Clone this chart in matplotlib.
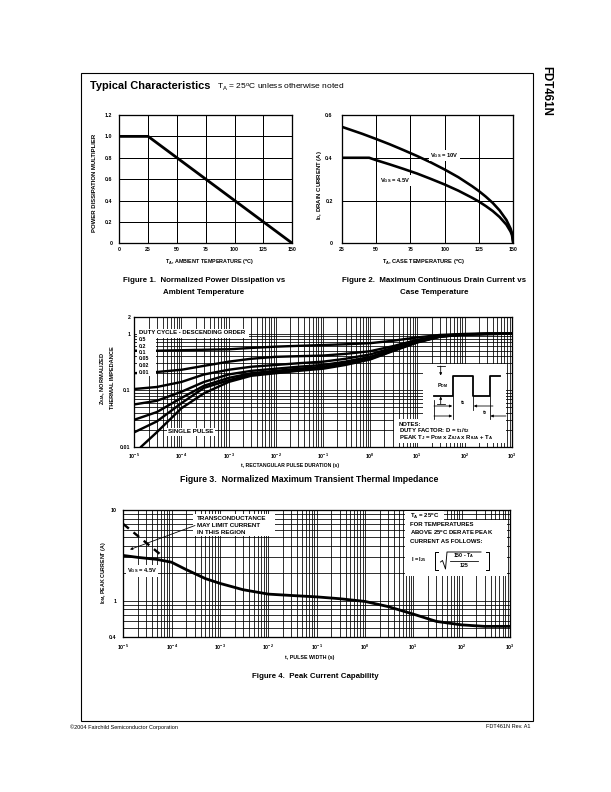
import numpy as np
import matplotlib
matplotlib.use('Agg')
import matplotlib.pyplot as plt
from matplotlib.patches import Rectangle, FancyArrowPatch
from matplotlib.lines import Line2D
from matplotlib.transforms import Affine2D
from matplotlib.ticker import FixedLocator, NullFormatter, FixedFormatter, LogLocator

plt.rcParams['font.family'] = ['Liberation Sans', 'DejaVu Sans']
plt.rcParams['mathtext.default'] = 'regular'
plt.rcParams['axes.linewidth'] = 1.2

# ---------------- data ----------------
# Figure 1: normalized power dissipation
fig1_temp = [0, 25, 150]
fig1_mult = [1.0, 1.0, 0.0]
fig1_xticks = [0, 25, 50, 75, 100, 125, 150]
fig1_yticks = [0, 0.2, 0.4, 0.6, 0.8, 1.0, 1.2]
fig1_ylabels = ['0', '0.2', '0.4', '0.6', '0.8', '1.0', '1.2']

# Figure 2: max continuous drain current
fig2_temp_10v = [25, 30, 40, 50, 60, 70, 80, 90, 100, 110, 120, 125, 130, 135, 140, 145, 148, 149, 150]
fig2_id_10v = [0.545, 0.534, 0.512, 0.488, 0.463, 0.436, 0.408, 0.378, 0.345, 0.309, 0.267, 0.244,
               0.218, 0.189, 0.154, 0.109, 0.069, 0.049, 0.0]
fig2_temp_45v = [25, 45, 50, 60, 70, 80, 90, 100, 110, 120, 125, 130, 135, 140, 145, 148, 149, 150]
fig2_id_45v = [0.40, 0.40, 0.389, 0.369, 0.348, 0.326, 0.301, 0.275, 0.246, 0.213, 0.195, 0.174,
               0.151, 0.123, 0.087, 0.055, 0.039, 0.0]
fig2_xticks = [25, 50, 75, 100, 125, 150]
fig2_yticks = [0, 0.2, 0.4, 0.6]
fig2_ylabels = ['0', '0.2', '0.4', '0.6']

# Figure 3: transient thermal impedance
fig3_t = [1e-5, 3e-5, 1e-4, 3e-4, 1e-3, 3e-3, 1e-2, 3e-2, 1e-1, 3e-1, 1, 3, 10, 30, 100, 300, 1000]
fig3_d05 = [0.50, 0.50, 0.51, 0.52, 0.53, 0.56, 0.59, 0.61, 0.63, 0.65, 0.68, 0.75, 0.86, 0.95, 0.99, 1.0, 1.0]
fig3_d02 = [0.20, 0.21, 0.23, 0.27, 0.32, 0.36, 0.39, 0.40, 0.41, 0.44, 0.49, 0.60, 0.78, 0.92, 0.98, 1.0, 1.0]
fig3_d01 = [0.105, 0.114, 0.14, 0.19, 0.23, 0.26, 0.28, 0.30, 0.32, 0.36, 0.43, 0.56, 0.75, 0.91, 0.98, 0.99, 1.0]
fig3_d005 = [0.056, 0.065, 0.094, 0.14, 0.19, 0.22, 0.24, 0.26, 0.28, 0.32, 0.39, 0.53, 0.73, 0.90, 0.97, 0.99, 1.0]
fig3_d002 = [0.030, 0.041, 0.073, 0.12, 0.165, 0.20, 0.22, 0.24, 0.26, 0.30, 0.37, 0.51, 0.72, 0.89, 0.97, 0.99, 1.0]
fig3_d001 = [0.018, 0.028, 0.059, 0.11, 0.15, 0.19, 0.21, 0.23, 0.25, 0.29, 0.36, 0.50, 0.71, 0.89, 0.97, 0.99, 1.0]
fig3_t_single = [1.4e-5, 3e-5, 1e-4, 3e-4, 1e-3, 3e-3, 1e-2, 3e-2, 1e-1, 3e-1, 1, 3, 10, 30, 100, 300, 1000]
fig3_single = [0.010, 0.018, 0.048, 0.088, 0.14, 0.18, 0.20, 0.22, 0.24, 0.28, 0.35, 0.49, 0.70, 0.88, 0.97, 0.99, 1.0]
fig3_duty_labels = ['0.5', '0.2', '0.1', '0.05', '0.02', '0.01']
fig3_yticks = [0.01, 0.1, 1, 2]
fig3_ylabels = ['0.01', '0.1', '1', '2']

# Figure 4: peak current capability
fig4_t = [1e-5, 2e-5, 5e-5, 1e-4, 2e-4, 5e-4, 1e-3, 3e-3, 1e-2, 3e-2, 1e-1, 3e-1, 1, 3, 10, 30, 100, 300, 1000]
fig4_idm = [3.15, 3.0, 2.85, 2.65, 2.2, 1.75, 1.55, 1.32, 1.18, 1.14, 1.10, 1.05, 0.98, 0.86, 0.71, 0.59, 0.54, 0.52, 0.52]
fig4_trans_t = [1e-5, 6e-5]
fig4_trans_i = [7.0, 3.2]
fig4_yticks = [0.4, 1, 10]
fig4_ylabels = ['0.4', '1', '10']

log_xticks = [1e-5, 1e-4, 1e-3, 1e-2, 1e-1, 1, 10, 100, 1000]
log_xlabels = ['10$^{-5}$', '10$^{-4}$', '10$^{-3}$', '10$^{-2}$', '10$^{-1}$', '10$^{0}$',
               '10$^{1}$', '10$^{2}$', '10$^{3}$']

# ---------------- figure ----------------
W, H = 611, 792
fig = plt.figure(figsize=(W / 72, H / 72), dpi=72)
fig.patch.set_facecolor('white')
PX = Affine2D().scale(1 / W, -1 / H).translate(0, 1) + fig.transFigure

SMALL = 6.0     # annotation text
ALAB = 5.6      # axis labels
TICK = 5.3      # tick labels
CAP = 7.9       # captions


def add_ax(l, t, r, b):
    return fig.add_axes([l / W, 1 - b / H, (r - l) / W, (b - t) / H])


def ftext(x, y, s, size=SMALL, weight='bold', ha='left', va='center', **kw):
    return fig.text(x / W, 1 - y / H, s, fontsize=size, fontweight=weight, ha=ha, va=va, **kw)


def vtext(x, y, s, size=ALAB):
    return fig.text(x / W, 1 - y / H, s, fontsize=size, fontweight='bold', rotation=90,
                    ha='center', va='center')


def fline(xs, ys, lw=1.0, **kw):
    fig.add_artist(Line2D(xs, ys, transform=PX, color='black', lw=lw, **kw))


def frect(x0, y0, x1, y1, fc='white', ec='none', lw=0.0, z=1):
    fig.add_artist(Rectangle((x0, y0), x1 - x0, y1 - y0, transform=PX,
                             facecolor=fc, edgecolor=ec, lw=lw, zorder=z))


def farrow(x0, y0, x1, y1, lw=0.8, ms=5):
    fig.add_artist(FancyArrowPatch((x0, y0), (x1, y1), transform=PX, arrowstyle='-|>',
                                   mutation_scale=ms, color='black', lw=lw,
                                   shrinkA=0, shrinkB=0, zorder=2))


WHITE = dict(facecolor='white', edgecolor='none', pad=1.2)


def style(ax, xpad, ypad, size=TICK):
    ax.tick_params(which='both', length=0, labelsize=size)
    ax.tick_params(axis='x', pad=xpad)
    ax.tick_params(axis='y', pad=ypad)
    for lbl in ax.get_xticklabels() + ax.get_yticklabels():
        lbl.set_fontweight('bold')
    for s in ax.spines.values():
        s.set_linewidth(1.3)


def log_grid(ax):
    ax.set_xscale('log')
    ax.set_yscale('log')
    ax.xaxis.set_major_locator(FixedLocator(log_xticks))
    ax.xaxis.set_major_formatter(FixedFormatter(log_xlabels))
    ax.xaxis.set_minor_locator(LogLocator(base=10, subs=np.arange(2, 10), numticks=50))
    ax.xaxis.set_minor_formatter(NullFormatter())
    ax.yaxis.set_minor_locator(LogLocator(base=10, subs=np.arange(2, 10), numticks=50))
    ax.yaxis.set_minor_formatter(NullFormatter())
    ax.grid(True, which='both', color='black', lw=0.8)


# border, title, side label, footer
frect(81, 73, 533, 720.5, fc='none', ec='black', lw=1.1, z=1)
ftext(90, 86, 'Typical Characteristics', size=11, weight='bold')
ftext(217, 87.5, 'T$_A$ = 25$^o$C unless otherwise noted', size=8.4, weight='normal')
fig.text(546 / W, 1 - 66 / H, 'FDT461N', fontsize=11.5, fontweight='bold', rotation=-90,
         ha='center', va='top')
ftext(70, 727, '\u00a92004 Fairchild Semiconductor Corporation', size=5.5, weight='normal')
ftext(530, 727, 'FDT461N Rev. A1', size=5.5, weight='normal', ha='right')

# ---------- Figure 1 ----------
ax1 = add_ax(119.3, 115, 292.3, 243.3)
ax1.plot(fig1_temp, fig1_mult, color='black', lw=2.8, solid_capstyle='butt')
ax1.set_xlim(0, 150)
ax1.set_ylim(0, 1.2)
ax1.set_xticks(fig1_xticks)
ax1.set_yticks(fig1_yticks)
ax1.set_yticklabels(fig1_ylabels)
ax1.grid(True, color='black', lw=1.0)
style(ax1, 4, 7)
ftext(210, 262.5, 'T$_A$, AMBIENT TEMPERATURE ($^o$C)', size=5.4, ha='center')
vtext(95, 183, 'POWER DISSIPATION MULTIPLIER', size=6.0)
ftext(204, 281, 'Figure 1.  Normalized Power Dissipation vs', size=CAP, ha='center')
ftext(204, 292, 'Ambient Temperature', size=CAP, ha='center')

# ---------- Figure 2 ----------
ax2 = add_ax(341.7, 115, 513.3, 243.3)
ax2.plot(fig2_temp_10v, fig2_id_10v, color='black', lw=2.6)
ax2.plot(fig2_temp_45v, fig2_id_45v, color='black', lw=2.6)
ax2.set_xlim(25, 150)
ax2.set_ylim(0, 0.6)
ax2.set_xticks(fig2_xticks)
ax2.set_yticks(fig2_yticks)
ax2.set_yticklabels(fig2_ylabels)
ax2.grid(True, color='black', lw=1.0)
style(ax2, 4, 9)
ftext(430, 155.5, 'V$_{GS}$ = 10V', size=5.8, bbox=WHITE)
ftext(380, 180.5, 'V$_{GS}$ = 4.5V', size=5.8, bbox=WHITE)
ftext(424, 262.5, 'T$_A$, CASE TEMPERATURE ($^o$C)', size=5.6, ha='center')
vtext(319, 185, 'I$_D$, DRAIN CURRENT (A)', size=6.0)
ftext(434, 281, 'Figure 2.  Maximum Continuous Drain Current vs', size=CAP, ha='center')
ftext(434, 292, 'Case Temperature', size=CAP, ha='center')

# ---------- Figure 3 ----------
ax3 = add_ax(134.3, 316.7, 511.7, 446.7)
for z in [fig3_d05, fig3_d02, fig3_d01, fig3_d005, fig3_d002, fig3_d001]:
    ax3.plot(fig3_t, z, color='black', lw=2.4)
ax3.plot(fig3_t_single, fig3_single, color='black', lw=2.4)
log_grid(ax3)
ax3.set_xlim(1e-5, 1e3)
ax3.set_ylim(0.01, 2)
ax3.yaxis.set_major_locator(FixedLocator(fig3_yticks))
ax3.yaxis.set_major_formatter(FixedFormatter(fig3_ylabels))
style(ax3, 5, 4)

frect(136.5, 328.5, 249, 337.5)
ftext(139, 333, 'DUTY CYCLE - DESCENDING ORDER', size=SMALL)
frect(136.5, 337, 156, 375.5)
for i, lab in enumerate(fig3_duty_labels):
    ftext(139, 339.5 + 6.5 * i, lab, size=5.2)
ftext(191, 432, 'SINGLE PULSE', size=6.3, ha='center', bbox=WHITE)

# notes box + pulse diagram
frect(423, 364, 506, 421)
frect(394, 419, 506, 443)
fline([434, 452.7, 452.7, 473.3, 473.3, 490, 490, 499.5], [396, 396, 376, 376, 396, 396, 376, 376], lw=1.8)
fline([437, 444.5], [366, 366], lw=0.8)
farrow(440.7, 366, 440.7, 375.5)
fline([437, 444.5], [404, 404], lw=0.8)
farrow(440.7, 404, 440.7, 396.5)
ftext(437, 386, 'P$_{DM}$', size=5.2)
fline([452.7, 452.7], [396, 419], lw=0.8)
fline([473.3, 473.3], [396, 410], lw=0.8)
fline([490, 490], [396, 419], lw=0.8)
fline([434, 434], [400, 419], lw=0.8)
farrow(434, 406, 452.2, 406)
farrow(493, 406, 473.8, 406)
farrow(434, 416, 452.2, 416)
farrow(506, 416, 490.5, 416)
ftext(460, 402.5, 't$_1$', size=5.6)
ftext(482, 413, 't$_2$', size=5.6)
ftext(399, 424, 'NOTES:', size=SMALL)
ftext(399, 430.5, 'DUTY FACTOR: D = t$_1$/t$_2$', size=SMALL)
ftext(399, 438, 'PEAK T$_J$ = P$_{DM}$ x Z$_{\u03b8JA}$ x R$_{\u03b8JA}$ + T$_A$', size=SMALL)

ftext(290, 465, 't, RECTANGULAR PULSE DURATION (s)', size=5.1, ha='center')
vtext(103, 378, 'Z$_{\u03b8JA}$, NORMALIZED', size=5.6)
vtext(113, 378, 'THERMAL IMPEDANCE', size=5.6)
ftext(309, 479, 'Figure 3.  Normalized Maximum Transient Thermal Impedance', size=8.7, ha='center')

# ---------- Figure 4 ----------
ax4 = add_ax(123.3, 510, 510, 636.7)
ax4.plot(fig4_t, fig4_idm, color='black', lw=2.8)
ax4.plot(fig4_trans_t, fig4_trans_i, color='black', lw=2.4, dashes=(3, 2.5))
log_grid(ax4)
ax4.set_xlim(1e-5, 1e3)
ax4.set_ylim(0.4, 10)
ax4.yaxis.set_major_locator(FixedLocator(fig4_yticks))
ax4.yaxis.set_major_formatter(FixedFormatter(fig4_ylabels))
style(ax4, 6, 7)

frect(193, 514, 275, 536)
ftext(197, 518.5, 'TRANSCONDUCTANCE', size=6.3)
ftext(197, 525.3, 'MAY LIMIT CURRENT', size=6.3)
ftext(197, 532, 'IN THIS REGION', size=6.3)
farrow(195, 525.5, 130, 549.5, lw=0.8, ms=5)
ftext(127, 571, 'V$_{GS}$ = 4.5V', size=5.8, bbox=WHITE)

frect(405, 511, 444, 521)
frect(405, 520, 507, 575.5)
ftext(410, 516.7, 'T$_A$ = 25$^o$C', size=SMALL)
ftext(410, 525, 'FOR TEMPERATURES', size=SMALL)
ftext(410, 533.3, 'ABOVE 25$^o$C DERATE PEAK', size=SMALL)
ftext(410, 541.7, 'CURRENT AS FOLLOWS:', size=SMALL)
ftext(411, 559.5, 'I = I$_{25}$', size=5.6)
fline([438, 435, 435, 438], [551.5, 551.5, 570, 570], lw=1.0)
fline([486, 489, 489, 486], [551.5, 551.5, 570, 570], lw=1.0)
fline([440.5, 442.5, 445.5, 447, 481], [562, 560.5, 569, 552, 552], lw=0.9)
ftext(464, 556, '150 - T$_A$', size=5.3, ha='center')
fline([450, 478], [560.5, 560.5], lw=0.8)
ftext(464, 565.5, '125', size=5.3, ha='center')

ftext(310, 657, 't, PULSE WIDTH (s)', size=5.3, ha='center')
vtext(103, 573, 'I$_{DM}$, PEAK CURRENT (A)', size=5.3)
ftext(315, 676, 'Figure 4.  Peak Current Capability', size=CAP, ha='center')

fig.savefig('out.png', dpi=72, facecolor='white')
